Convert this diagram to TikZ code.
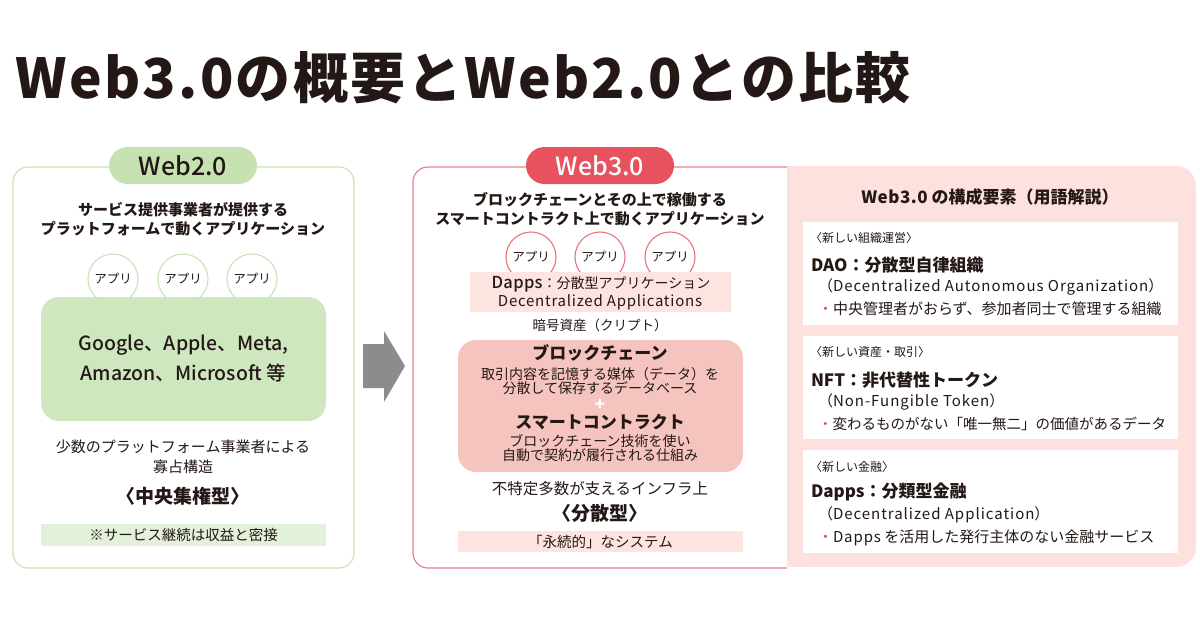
\documentclass[tikz,border=0pt]{standalone}
\usepackage{fontspec}
\setmainfont{Noto Sans CJK JP}
\newfontfamily\med{Noto Sans CJK JP Medium}
\definecolor{ink}{HTML}{231815}
\definecolor{gline}{HTML}{C9E3B8}
\definecolor{gpill}{HTML}{C5E2B0}
\definecolor{gbox}{HTML}{CFE7BF}
\definecolor{gnote}{HTML}{E4F1DA}
\definecolor{rline}{HTML}{EA8089}
\definecolor{rpill}{HTML}{E8525F}
\definecolor{rcirc}{HTML}{E8747D}
\definecolor{pinkl}{HTML}{FDE4E1}
\definecolor{pinkm}{HTML}{F6C4BE}
\definecolor{panel}{HTML}{FDE1DE}
\definecolor{agray}{HTML}{8C8C8C}
\definecolor{bul}{HTML}{E8505F}
\newcommand{\fs}[2]{\fontsize{#1}{#2}\selectfont}
\newcommand{\lsp}[2]{{\addfontfeature{LetterSpace=#1}#2}}
\tikzset{
  every node/.style={text=ink, inner sep=0pt, outer sep=0pt},
  pill/.style={rectangle, rounded corners=18.5, minimum width=148, minimum height=37, font=\med\fs{25}{28}},
  appc/.style={circle, draw=#1, line width=1.1pt, fill=white, minimum size=50, font=\fs{12.5}{14}},
  head/.style={align=center, font=\bfseries\fs{15}{19}},
  body/.style={align=center, font=\fs{15}{20}},
  term/.style={anchor=west, font=\fs{15}{18}},
}
\begin{document}
\begin{tikzpicture}[x=1pt,y=-1pt]
\useasboundingbox (0,0) rectangle (1200,630);
\fill[white] (0,0) rectangle (1200,630);
% title
\node[anchor=west, font=\bfseries\fs{55}{62}] (title) at (16,78) {\lsp{4}{Web3.0の概要とWeb2.0との比較}};

% ---------- Web2.0 panel ----------
\draw[gline, line width=1.2pt, rounded corners=15] (13,167) rectangle (354,568);
\node[pill, fill=gpill] (w2) at (183,165.5) {Web2.0};
\node[head] (h2) at (183,219) {サービス提供事業者が提供する\\プラットフォームで動くアプリケーション};
\node[appc=gline] (a1) at (113,279) {アプリ};
\node[appc=gline] (a2) at (183,279) {アプリ};
\node[appc=gline] (a3) at (252,279) {アプリ};
\node[rectangle, rounded corners=18, fill=gbox, minimum width=285, minimum height=124, align=center, font=\med\fs{19.5}{30}] (plat) at (183.5,359) {Google、Apple、Meta,\\Amazon、Microsoft 等};
\node[body] (olig) at (183,457) {少数のプラットフォーム事業者による\\寡占構造};
\node[font=\bfseries\fs{19}{22}] (cent) at (183,496) {〈中央集権型〉};
\node[fill=gnote, minimum width=285, minimum height=22, font=\fs{14.5}{16}] (n2) at (183.5,535) {※サービス継続は収益と密接};

% arrow
\fill[agray] (363,344) -- (384,344) -- (384,331) -- (405,366) -- (384,402) -- (384,388) -- (363,388) -- cycle;

% ---------- Web3.0 panel ----------
\draw[rline, line width=1.2pt, rounded corners=15] (787,167) -- (413,167) -- (413,568) -- (787,568);
\node[pill, fill=rpill, text=white] (w3) at (600,165.5) {Web3.0};
\node[head] (h3) at (600,209.5) {ブロックチェーンとその上で稼働する\\スマートコントラクト上で動くアプリケーション};
\node[appc=rcirc] (b1) at (531,257) {アプリ};
\node[appc=rcirc] (b2) at (600,257) {アプリ};
\node[appc=rcirc] (b3) at (670,257) {アプリ};
\node[fill=pinkl, minimum width=261, minimum height=40] (dbox) at (600.5,292) {};
\node[font=\fs{14}{16}] (d1) at (601,284) {{\med\fs{16.5}{18}\lsp{2}{Dapps}}：分散型アプリケーション};
\node[font=\fs{15}{16}] (d2) at (600,302) {\lsp{5}{Decentralized Applications}};
\node[font=\fs{13.5}{16}] (cry) at (600,325) {暗号資産（クリプト）};
\node[rectangle, rounded corners=18, fill=pinkm, minimum width=285, minimum height=132] (bc) at (600.5,406) {};
\node[font=\bfseries\fs{17}{20}] (bc1) at (600,353) {ブロックチェーン};
\node[align=center, font=\fs{14}{14}] (bc2) at (600,381.5) {取引内容を記憶する媒体（データ）を\\分散して保存するデータベース};
\node[text=white, font=\bfseries\fs{17}{17}] (plus) at (600,405) {+};
\node[font=\bfseries\fs{17}{20}] (sc1) at (600,422) {スマートコントラクト};
\node[align=center, font=\fs{14}{14}] (sc2) at (600,448.5) {ブロックチェーン技術を使い\\自動で契約が履行される仕組み};
\node[font=\fs{15.5}{18}] (inf) at (600,489) {不特定多数が支えるインフラ上};
\node[font=\bfseries\fs{19}{22}] (dec) at (600,513) {〈分散型〉};
\node[fill=pinkl, minimum width=285, minimum height=21, font=\fs{14.5}{16}] (n3) at (600.5,541.5) {「永続的」なシステム};

% ---------- right panel ----------
\fill[panel, rounded corners=20] (787,166) rectangle (1196,567);
\fill[panel] (787,166) rectangle (820,567);
\node[font=\bfseries\fs{17}{18}] (rt) at (990,197) {\lsp{3}{Web3.0} の構成要素（用語解説）};
\fill[white] (803,222) rectangle (1178,325);
\fill[white] (803,336) rectangle (1178,439);
\fill[white] (803,450) rectangle (1178,553);
% box 1
\node[anchor=west, font=\fs{12}{14}] (c1) at (810,238) {〈新しい組織運営〉};
\node[anchor=west, font=\bfseries\fs{17}{20}] (t1) at (811,265) {DAO：分散型自律組織};
\node[term] (e1) at (818,287) {（\lsp{6.5}{Decentralized Autonomous Organization}）};
\node[term] (s1) at (818,309) {{\color{bul}・}中央管理者がおらず、参加者同士で管理する組織};
% box 2
\node[anchor=west, font=\fs{12}{14}] (c2) at (810,352) {〈新しい資産・取引〉};
\node[anchor=west, font=\bfseries\fs{17}{20}] (t2) at (811,380) {NFT：非代替性トークン};
\node[term] (e2) at (818,402) {（\lsp{6.5}{Non-Fungible Token}）};
\node[term, font=\fs{14.5}{18}] (s2) at (818,424) {{\color{bul}・}変わるものがない「唯一無二」の価値があるデータ};
% box 3
\node[anchor=west, font=\fs{12}{14}] (c3) at (810,467) {〈新しい金融〉};
\node[anchor=west, font=\bfseries\fs{17}{20}] (t3) at (811,492) {Dapps：分類型金融};
\node[term] (e3) at (818,515) {（\lsp{6.5}{Decentralized Application}）};
\node[term] (s3) at (818,538) {{\color{bul}・}\lsp{6}{Dapps} を活用した発行主体のない金融サービス};
\end{tikzpicture}
\end{document}
